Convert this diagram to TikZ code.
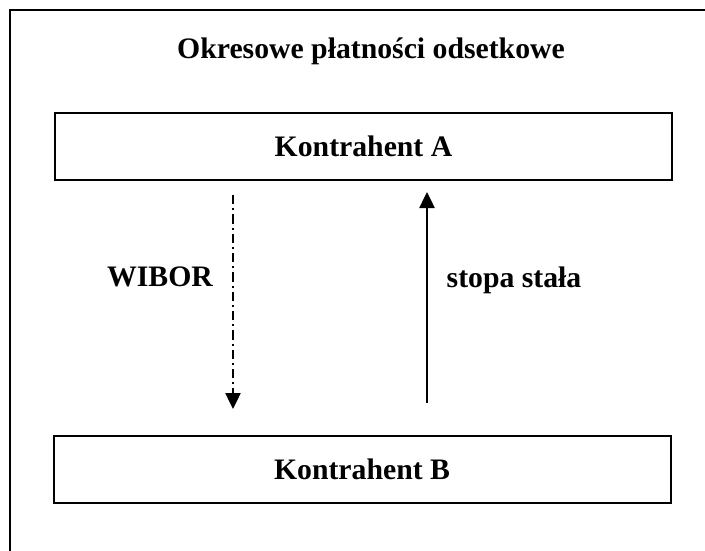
\documentclass[tikz,border=0pt]{standalone}
\usepackage{fontspec}
\setmainfont{Liberation Serif}
\usetikzlibrary{arrows.meta}
\begin{document}
\begin{tikzpicture}[x=0.75pt,y=-0.75pt,
  party/.style={draw,line width=1.5pt,minimum width=617*0.75pt,minimum height=67*0.75pt,inner sep=0pt,font=\fontsize{22.3}{26}\selectfont\bfseries},
  lbl/.style={font=\fontsize{22.3}{26}\selectfont\bfseries,inner sep=0pt},
  flow/.style={line width=0.9pt,-{Triangle[length=12pt,width=11.5pt]}},
  dashdot/.style={dash pattern=on 7pt off 3pt on 1.5pt off 3pt}]
\useasboundingbox (0,0) rectangle (705,550);
\clip (0,0) rectangle (705,550);
% outer frame, running past the right and bottom edges
\draw[line width=1.5pt] (10,600) -- (10,10) -- (760,10);
\node[lbl] (title) at (371,51) {Okresowe płatności odsetkowe};
\node[party] (A) at (363.5,146) {Kontrahent A};
\node[party] (B) at (362,469.5) {Kontrahent B};
\coordinate (w1) at (233,195);
\coordinate (w2) at (233,409);
\coordinate (s1) at (427,403);
\coordinate (s2) at (427,192);
\draw[flow,dashdot] (w1) -- (w2);
\draw[flow] (s1) -- (s2);
\node[lbl] (wibor) at (160,277) {WIBOR};
\node[lbl] (stopa) at (514,280) {stopa stała};
\end{tikzpicture}
\end{document}
